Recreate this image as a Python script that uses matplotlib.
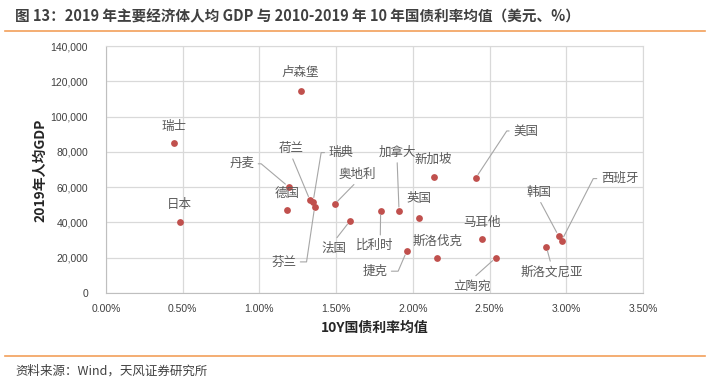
import matplotlib.pyplot as plt
from matplotlib.ticker import FuncFormatter, MultipleLocator

# Data: 10Y government bond yield average 2010-2019 (%) and 2019 GDP per capita (USD)
countries = ["卢森堡", "瑞士", "日本", "丹麦", "德国", "荷兰", "瑞典", "芬兰", "奥地利", "法国",
             "比利时", "加拿大", "英国", "新加坡", "美国", "捷克", "斯洛伐克", "马耳他",
             "立陶宛", "斯洛文尼亚", "韩国", "西班牙"]
bond_yield = [1.27, 0.44, 0.48, 1.19, 1.18, 1.33, 1.35, 1.36, 1.49, 1.59,
              1.79, 1.91, 2.04, 2.14, 2.41, 1.96, 2.16, 2.45,
              2.54, 2.87, 2.95, 2.97]
gdp_per_capita = [114700, 85000, 40500, 60200, 46800, 52500, 51800, 48800, 50300, 40800,
                  46700, 46400, 42600, 65500, 65200, 23700, 19700, 30400,
                  19900, 26200, 32300, 29700]

# label placement: offset in pixels from point, leader anchor on text box (None = no leader),
# and angle of the leader's second leg when it starts with a short horizontal tick
label_style = {
    "卢森堡": ((-1, 18), None, None),
    "瑞士": ((0, 17), None, None),
    "日本": ((0, 17), None, None),
    "丹麦": ((-47, 23), (1, 0.5), 140),
    "德国": ((0, 17), None, None),
    "荷兰": ((-19, 52), (0.5, 0), None),
    "瑞典": ((28, 49), (0, 0.5), 80.7),
    "芬兰": ((-31, -55), (1, 0.5), 81.6),
    "奥地利": ((23, 30), (0.5, 0), None),
    "法国": ((-16, -27), (0.5, 1), None),
    "比利时": ((-6, -35), (0.65, 1), None),
    "加拿大": ((-2, 59), (0.5, 0), None),
    "英国": ((0, 19), None, None),
    "新加坡": ((-1, 18), None, None),
    "美国": ((50, 47), (0, 0.5), 56.6),
    "捷克": ((-32, -20), (1, 0.5), 66.8),
    "斯洛伐克": ((0, 17), None, None),
    "马耳他": ((0, 17), None, None),
    "立陶宛": ((-24, -28), (0.5, 1), None),
    "斯洛文尼亚": ((5, -25), (0.5, 1), None),
    "韩国": ((-20, 44), (0.5, 0), None),
    "西班牙": ((58, 62), (0, 0.5), 63),
}

cjk = ["Noto Sans CJK SC", "DejaVu Sans"]
latin = ["Liberation Sans", "DejaVu Sans"]

fig = plt.figure(figsize=(7.1, 3.84), dpi=100)
ax = fig.add_axes([106 / 710, 1 - 293 / 384, 537 / 710, 247 / 384])

ax.scatter(bond_yield, gdp_per_capita, s=24, color="#C0504D", zorder=3, linewidths=0)

for name, x, y in zip(countries, bond_yield, gdp_per_capita):
    (dx, dy), rel, leg = label_style[name]
    arrow = None
    if rel is not None:
        arrow = dict(arrowstyle="-", color="#A6A6A6", lw=0.8, relpos=rel,
                     shrinkA=1, shrinkB=3)
        if leg is not None:
            arrow["connectionstyle"] = f"angle,angleA=0,angleB={leg},rad=0"
    ax.annotate(name, (x, y), xytext=(dx, dy), textcoords="offset pixels",
                ha="center", va="center", fontsize=9, color="#595959",
                family=cjk, arrowprops=arrow, zorder=4)

ax.set_xlim(0, 3.5)
ax.set_ylim(0, 140000)
ax.xaxis.set_major_locator(MultipleLocator(0.5))
ax.yaxis.set_major_locator(MultipleLocator(20000))
ax.xaxis.set_major_formatter(FuncFormatter(lambda v, p: f"{v:.2f}%"))
ax.yaxis.set_major_formatter(FuncFormatter(lambda v, p: f"{v:,.0f}"))
ax.grid(True, color="#D9D9D9", lw=0.9)
ax.set_axisbelow(True)
for s in ax.spines.values():
    s.set_color("#D9D9D9")
ax.spines["bottom"].set_color("#BFBFBF")
ax.spines["left"].set_color("#BFBFBF")
ax.tick_params(length=0, labelsize=7.5, labelcolor="#404040")
ax.tick_params(axis="x", pad=8)
ax.tick_params(axis="y", pad=13)
for lab in ax.get_xticklabels() + ax.get_yticklabels():
    lab.set_family(latin)

fig.text(375 / 710, 1 - 328 / 384, "10Y国债利率均值", ha="center", va="center",
         fontsize=10, fontweight="bold", color="#262626", family=cjk)
fig.text(40 / 710, 1 - 170 / 384, "2019年人均GDP", ha="center", va="center", rotation=90,
         fontsize=10, fontweight="bold", color="#262626", family=cjk)

# header and footer
fig.text(15 / 710, 1 - 16 / 384,
         "图 13：2019 年主要经济体人均 GDP 与 2010-2019 年 10 年国债利率均值（美元、%）",
         ha="left", va="center", fontsize=10.5, fontweight="bold", color="#404040", family=cjk)
fig.add_artist(plt.Line2D([5 / 710, 705 / 710], [1 - 31 / 384, 1 - 31 / 384],
                          color="#F2A05A", lw=1.2))
fig.add_artist(plt.Line2D([5 / 710, 705 / 710], [1 - 356 / 384, 1 - 356 / 384],
                          color="#F2A05A", lw=1.2))
fig.text(15 / 710, 1 - 371 / 384, "资料来源：Wind，天风证券研究所", ha="left", va="center",
         fontsize=9, color="#404040", family=cjk)

fig.savefig("out.png", dpi=100)
